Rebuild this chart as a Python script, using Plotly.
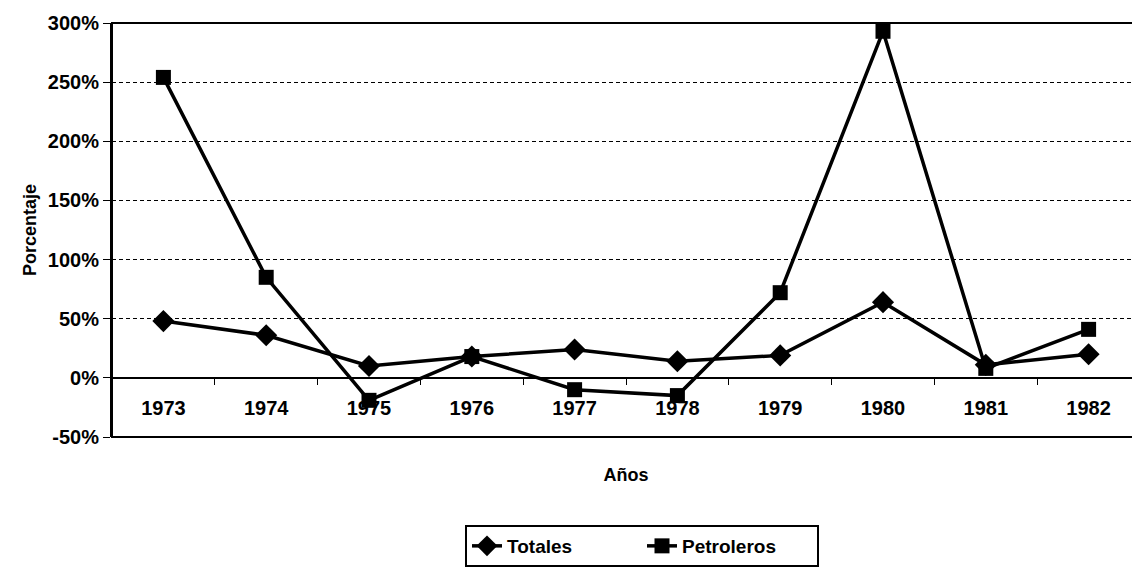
import plotly.graph_objects as go

years = ["1973", "1974", "1975", "1976", "1977", "1978", "1979", "1980", "1981", "1982"]
totales = [48, 36, 10, 18, 24, 14, 19, 64, 11, 20]
petroleros = [254, 85, -19, 18, -10, -15, 72, 293, 8, 41]
y_tick_values = [-50, 0, 50, 100, 150, 200, 250, 300]
y_tick_labels = ["-50%", "0%", "50%", "100%", "150%", "200%", "250%", "300%"]

FONT = "Liberation Sans"
OFF = 8  # page body margin of the browser

fig = go.Figure()
fig.add_trace(go.Scatter(
    x=years, y=totales, name="Totales", mode="lines+markers",
    line=dict(color="black", width=3.5),
    marker=dict(symbol="diamond", size=17, color="black"),
))
fig.add_trace(go.Scatter(
    x=years, y=petroleros, name="Petroleros", mode="lines+markers",
    line=dict(color="black", width=3.5),
    marker=dict(symbol="square", size=15, color="black"),
))

fig.update_layout(
    width=1140 - OFF, height=567 - OFF,
    margin=dict(l=112 - OFF, r=0, t=23 - OFF, b=130, autoexpand=False),
    plot_bgcolor="white", paper_bgcolor="white",
    font=dict(family=FONT, color="black"),
    showlegend=True,
    legend=dict(
        orientation="h", x=(465 - 112) / 1028, xanchor="left", y=(437 - 525) / 414, yanchor="top",
        bordercolor="black", borderwidth=2,
        font=dict(family=FONT, size=19, weight="bold"),
        entrywidth=130,
    ),
    xaxis=dict(
        type="category", anchor="free", position=1/7, automargin=False,
        showline=True, linecolor="black", linewidth=2,
        ticks="outside", ticklen=6, tickcolor="black", tickwidth=1,
        tickson="boundaries", showgrid=False,
        tickfont=dict(family=FONT, size=20, weight="bold"),
        ticklabelstandoff=12,
        title=dict(text="Años", font=dict(family=FONT, size=18, weight="bold"), standoff=50),
        range=[-0.5, 9.5],
    ),
    yaxis=dict(
        range=[-50, 300], tickmode="array", tickvals=y_tick_values, ticktext=y_tick_labels,
        automargin=False,
        showline=True, linecolor="black", linewidth=2,
        ticks="outside", ticklen=7, tickcolor="black",
        showgrid=True, gridcolor="black", gridwidth=1, griddash="4px,3px",
        zeroline=False,
        tickfont=dict(family=FONT, size=20, weight="bold"),
        title=dict(text="Porcentaje", font=dict(family=FONT, size=18, weight="bold"), standoff=7),
    ),
    shapes=[dict(type="rect", xref="paper", yref="paper", x0=0, x1=1, y0=0, y1=1,
                 line=dict(color="black", width=2), layer="above")],
)

fig.write_html("out.html")
